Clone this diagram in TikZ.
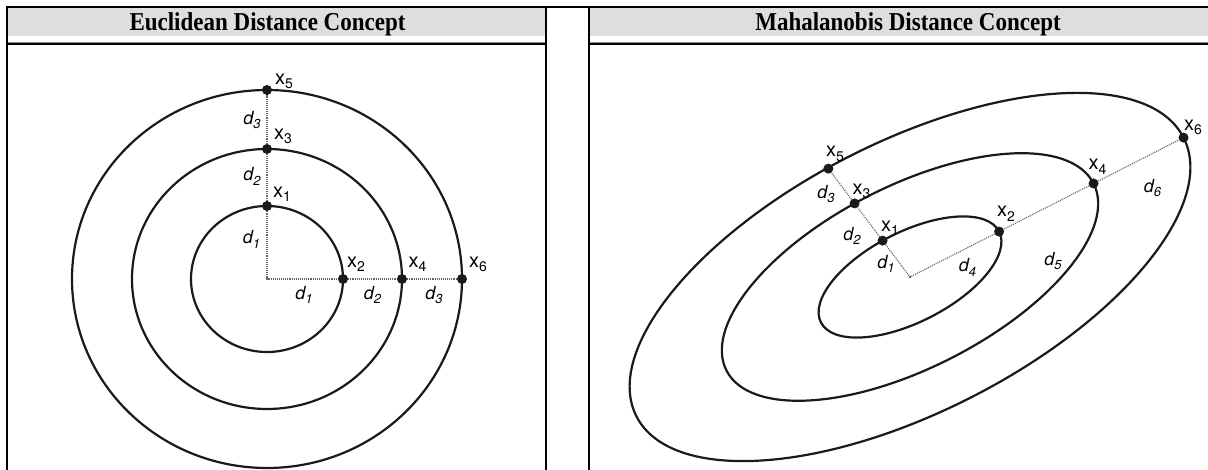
\documentclass[tikz,border=0pt]{standalone}
\usepackage{fontspec}
\setmainfont{Liberation Serif}
\newfontfamily\helv{TeX Gyre Heros}
\usetikzlibrary{backgrounds}
\definecolor{hdrgray}{RGB}{222,222,222}
\definecolor{inkc}{RGB}{26,26,26}
\newcommand{\xlab}[1]{{\helv\fontsize{20}{20}\selectfont x\raisebox{-4.5pt}{\fontsize{14}{14}\selectfont #1}}}
\newcommand{\dlab}[1]{{\helv\itshape\fontsize{18}{18}\selectfont d\raisebox{-4.5pt}{\fontsize{13}{13}\selectfont #1}}}
\newcommand{\ttltext}[1]{\scalebox{1}[1.12]{#1}}
\tikzset{
  dotnode/.style={circle,fill=inkc,draw=none,inner sep=0pt,minimum size=10pt},
  ctrnode/.style={circle,fill=black!70,draw=none,inner sep=0pt,minimum size=2.5pt},
  ring/.style={draw=inkc,line width=2.2pt},
  guide/.style={draw=black!60,densely dotted,line width=1.1pt},
  border/.style={draw=black,line width=2pt},
  lbl/.style={inner sep=0pt,anchor=center},
  ttl/.style={inner sep=0pt,anchor=base,font=\fontsize{23}{23}\selectfont\bfseries}
}
\begin{document}
\begin{tikzpicture}[x=1pt,y=1pt]
\useasboundingbox (0,0) rectangle (1208,470);
% ---------- left panel points ----------
\node[ctrnode] (lc) at (267,191) {};
\node[dotnode] (lx1) at (267,264) {};
\node[dotnode] (lx3) at (267,321) {};
\node[dotnode] (lx5) at (267,380) {};
\node[dotnode] (lx2) at (343,191) {};
\node[dotnode] (lx4) at (402,191) {};
\node[dotnode] (lx6) at (462,191) {};
% ---------- right panel points ----------
\begin{scope}[shift={(910,193)},rotate=27]
\node[ctrnode] (rc) at (0,0) {};
\node[dotnode] (rx1) at (-7.91,44.86) {};
\node[dotnode] (rx3) at (-15.99,90.72) {};
\node[dotnode] (rx5) at (-23.55,133.61) {};
\node[dotnode] (rx2) at (100,0) {};
\node[dotnode] (rx4) at (206,0) {};
\node[dotnode] (rx6) at (307,0) {};
\end{scope}
\begin{pgfonlayer}{background}
\fill[white] (0,0) rectangle (1208,470);
% headers
\fill[hdrgray] (8,434) rectangle (545,462);
\fill[hdrgray] (590,434) rectangle (1208,462);
\draw[black!45,line width=1pt] (8,427.5) -- (545,427.5);
\draw[black,line width=1.6pt] (8,425.8) -- (545,425.8);
\draw[black!45,line width=1pt] (590,427.5) -- (1208,427.5);
\draw[black,line width=1.6pt] (590,425.8) -- (1208,425.8);
\draw[border] (6,463) -- (1208,463);
\draw[border] (7,0) -- (7,464);
\draw[border] (546,0) -- (546,464);
\draw[border] (589,0) -- (589,464);
% guides
\draw[guide] (lc) -- (lx1) -- (lx3) -- (lx5);
\draw[guide] (lc) -- (lx2) -- (lx4) -- (lx6);
\draw[guide] (rc) -- (rx1) -- (rx3) -- (rx5);
\draw[guide] (rc) -- (rx2) -- (rx4) -- (rx6);
% circles
\draw[ring] (267,191) ellipse [x radius=76pt, y radius=73pt];
\draw[ring] (267,191) ellipse [x radius=135pt, y radius=130pt];
\draw[ring] (267,191) ellipse [x radius=195pt, y radius=189pt];
% ellipses
\begin{scope}[shift={(910,193)},rotate=27]
\draw[ring] (0,0) ellipse [x radius=100pt, y radius=45pt];
\draw[ring] (0,0) ellipse [x radius=206pt, y radius=91pt];
\draw[ring] (0,0) ellipse [x radius=307pt, y radius=135pt];
\end{scope}
\end{pgfonlayer}
% titles
\node[ttl] (t1) at (267.5,439) {\ttltext{Euclidean Distance Concept}};
\node[ttl] (t2) at (908,439) {\ttltext{Mahalanobis Distance Concept}};
% left labels
\node[lbl] (llx5) at (284,388.5) {\xlab{5}};
\node[lbl] (llx3) at (283,333.5) {\xlab{3}};
\node[lbl] (llx1) at (282,275.5) {\xlab{1}};
\node[lbl] (llx2) at (356,205.5) {\xlab{2}};
\node[lbl] (llx4) at (417.5,205.5) {\xlab{4}};
\node[lbl] (llx6) at (478,205.5) {\xlab{6}};
\node[lbl] (lld3v) at (252,350) {\dlab{3}};
\node[lbl] (lld2v) at (252,293.5) {\dlab{2}};
\node[lbl] (lld1v) at (251.5,230.5) {\dlab{1}};
\node[lbl] (lld1h) at (304,175) {\dlab{1}};
\node[lbl] (lld2h) at (372.5,175) {\dlab{2}};
\node[lbl] (lld3h) at (434,175) {\dlab{3}};
% right labels
\node[lbl] (rlx5) at (835,316) {\xlab{5}};
\node[lbl] (rlx3) at (861.5,278.5) {\xlab{3}};
\node[lbl] (rlx1) at (890,241.5) {\xlab{1}};
\node[lbl] (rlx2) at (1006,256) {\xlab{2}};
\node[lbl] (rlx4) at (1097.5,303) {\xlab{4}};
\node[lbl] (rlx6) at (1193,342.5) {\xlab{6}};
\node[lbl] (rld3) at (826,276) {\dlab{3}};
\node[lbl] (rld2) at (852,234) {\dlab{2}};
\node[lbl] (rld1) at (886,206) {\dlab{1}};
\node[lbl] (rld4) at (967.5,202.5) {\dlab{4}};
\node[lbl] (rld5) at (1053,209) {\dlab{5}};
\node[lbl] (rld6) at (1152.5,282) {\dlab{6}};
\end{tikzpicture}
\end{document}
